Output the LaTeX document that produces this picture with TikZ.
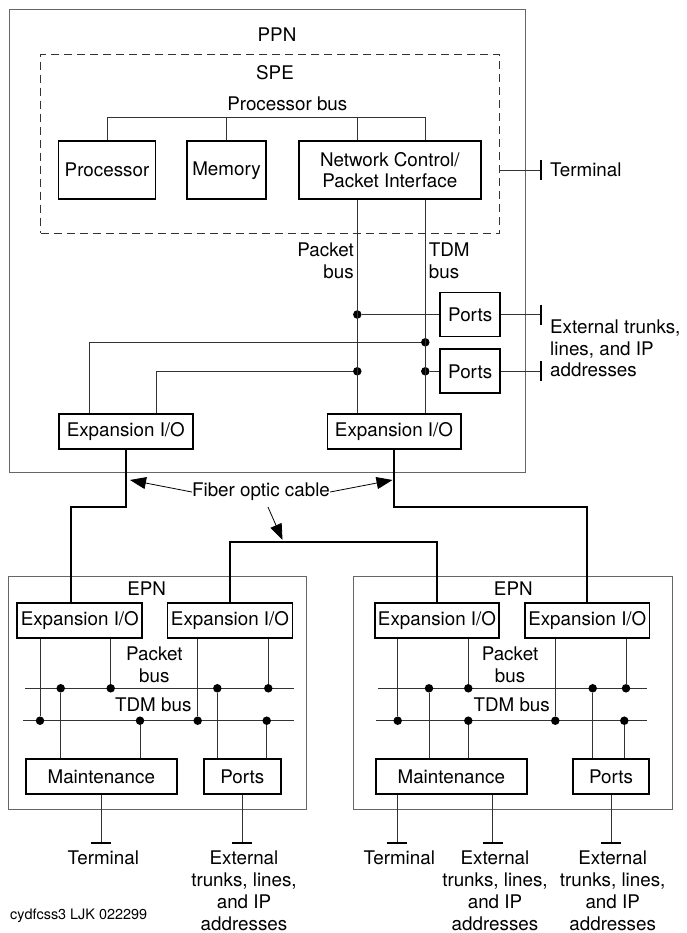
\documentclass[tikz,border=0pt]{standalone}
\usepackage{fontspec}
\setmainfont{TeX Gyre Heros}
\usetikzlibrary{arrows.meta}
\newcommand{\mainsize}{\fontsize{18.8}{21.8}\selectfont}
\newcommand{\tagsize}{\fontsize{14.4}{16}\selectfont}
\tikzstyle{cabinet}=[draw=black!60, line width=1pt, inner sep=0pt]
\tikzstyle{shelf}=[draw=black!80, dash pattern=on 8pt off 5pt, line width=1pt, inner sep=0pt]
\tikzstyle{unit}=[draw, line width=1.8pt, inner sep=0pt, align=center, minimum height=35pt]
\tikzstyle{wire}=[draw=black!80, line width=0.9pt]
\tikzstyle{fiber}=[line width=1.9pt]
\tikzstyle{junction}=[circle, fill, inner sep=0pt, minimum size=8.5pt]
\tikzstyle{endbar}=[line width=1.9pt]
\tikzstyle{caption}=[inner sep=0pt, align=center]
\tikzstyle{pointer}=[line width=0.8pt, -{Triangle[length=16pt,width=12pt]}]

\begin{document}
\begin{tikzpicture}[x=1pt, y=-1pt, font=\mainsize]
\useasboundingbox (0,0) rectangle (687,933);

\node[cabinet, minimum width=516pt, minimum height=463.4pt] (ppn) at (267.3,241) {};
\node[caption] (ppnlabel) at (277,35) {PPN};
\node[shelf, minimum width=459.3pt, minimum height=179pt] (spe) at (270.3,143.8) {};
\node[caption] (spelabel) at (275,72.7) {SPE};
\node[caption] (pbuslabel) at (287.3,104) {Processor bus};

\node[unit, minimum width=97pt, minimum height=57.7pt] (proc) at (107,170.2) {Processor};
\node[unit, minimum width=79pt, minimum height=57.7pt] (mem) at (226.5,170.2) {Memory};
\node[unit, minimum width=181.7pt, minimum height=57.7pt] (ncpi) at (389.8,170.2) {Network Control/\\Packet Interface};
\node[unit, minimum width=59.7pt, minimum height=44pt] (ports1) at (470.2,314.5) {Ports};
\node[unit, minimum width=59.7pt, minimum height=44pt] (ports2) at (470.2,371.3) {Ports};
\node[unit, minimum width=133.6pt] (expA) at (125.8,431.8) {Expansion I/O};
\node[unit, minimum width=133.2pt] (expB) at (394,431.8) {Expansion I/O};

\node[caption, anchor=west] (term) at (550,170) {Terminal};
\node[caption, anchor=west, align=left] (ext) at (550,348.3) {External trunks,\\lines, and IP\\addresses};
\node[caption, anchor=east, align=right] (pktlabel) at (354,261) {Packet\\bus};
\node[caption, anchor=west, align=left] (tdmlabel) at (428.7,261) {TDM\\bus};

\coordinate (pbL) at (107,117.7);
\coordinate (pbR) at (425.3,117.7);
\node[junction] (pA) at (357.3,314.5) {};
\node[junction] (tA) at (425.3,342.3) {};
\node[junction] (pB) at (357.3,371.3) {};
\node[junction] (tB) at (425.3,371.3) {};
\coordinate (termbar) at (541,170);
\coordinate (extbar1) at (541,314.5);
\coordinate (extbar2) at (541,371.3);

\draw[wire] (proc.north) -- (pbL) -- (pbR) -- (ncpi.north -| pbR);
\draw[wire] (mem.north) -- (mem.north |- pbL);
\draw[wire] (ncpi.north -| pA) -- (pA |- pbL);
\draw[wire] (ncpi.south -| pA) -- (expB.north -| pA);
\draw[wire] (ncpi.south -| tA) -- (expB.north -| tA);
\draw[wire] (pA) -- (ports1.west);
\draw[wire] (tB) -- (ports2.west);
\draw[wire] (tA) -| ([xshift=-36.5pt]expA.north);
\draw[wire] (pB) -| ([xshift=31pt]expA.north);
\draw[wire] (spe.east |- termbar) -- (termbar);
\draw[wire] (ports1.east) -- (extbar1);
\draw[wire] (ports2.east) -- (extbar2);
\draw[endbar] ([yshift=10pt]termbar) -- ([yshift=-10pt]termbar);
\draw[endbar] ([yshift=10pt]extbar1) -- ([yshift=-10pt]extbar1);
\draw[endbar] ([yshift=10pt]extbar2) -- ([yshift=-10pt]extbar2);

\node[cabinet, minimum width=298.4pt, minimum height=233.3pt] (epnL) at (157.5,693.3) {};
\node[caption] (epnLlabel) at (146.7,588.3) {EPN};
\node[unit, minimum width=125pt] (eL1) at (79.8,620.8) {Expansion I/O};
\node[unit, minimum width=125pt] (eL2) at (230,620.8) {Expansion I/O};
\node[caption] (pktL) at (154.3,664.5) {Packet\\bus};
\node[caption] (tdmL) at (153.3,704.3) {TDM bus};
\node[unit, minimum width=150.7pt, minimum height=34.7pt] (mL) at (101.3,776.7) {Maintenance};
\node[unit, minimum width=76.7pt, minimum height=34.7pt] (prL) at (242.3,776.7) {Ports};

\coordinate (pkLw) at (25,688.3);
\coordinate (pkLe) at (294.3,688.3);
\coordinate (tdLw) at (23.3,720.7);
\coordinate (tdLe) at (294.3,720.7);
\draw[wire] (pkLw) -- (pkLe);
\draw[wire] (tdLw) -- (tdLe);
\node[junction] (jL1) at (40,720.7) {};
\node[junction] (jL2) at (110.7,688.3) {};
\node[junction] (jL3) at (197.7,720.7) {};
\node[junction] (jL4) at (268.3,688.3) {};
\node[junction] (jL5) at (60.7,688.3) {};
\node[junction] (jL6) at (140,720.7) {};
\node[junction] (jL7) at (217.3,688.3) {};
\node[junction] (jL8) at (266.7,720.7) {};
\draw[wire] (eL1.south -| jL1) -- (jL1);
\draw[wire] (eL1.south -| jL2) -- (jL2);
\draw[wire] (eL2.south -| jL3) -- (jL3);
\draw[wire] (eL2.south -| jL4) -- (jL4);
\draw[wire] (mL.north -| jL5) -- (jL5);
\draw[wire] (mL.north -| jL6) -- (jL6);
\draw[wire] (prL.north -| jL7) -- (jL7);
\draw[wire] (prL.north -| jL8) -- (jL8);
\coordinate (barL1) at (101.3,842.7);
\coordinate (barL2) at (242.3,842.7);
\draw[wire] (mL.south) -- (barL1);
\draw[wire] (prL.south) -- (barL2);
\draw[endbar] ([xshift=-10pt]barL1) -- ([xshift=10pt]barL1);
\draw[endbar] ([xshift=-10pt]barL2) -- ([xshift=10pt]barL2);
\node[caption, anchor=north] (termL) at (103.3,851) {Terminal};
\node[caption, anchor=north] (extL) at (244,851) {External\\trunks, lines,\\and IP\\addresses};

\node[cabinet, minimum width=318.7pt, minimum height=233.3pt] (epnR) at (513.3,693.3) {};
\node[caption] (epnRlabel) at (513.3,588.3) {EPN};
\node[unit, minimum width=124.3pt] (eR1) at (437,620.8) {Expansion I/O};
\node[unit, minimum width=124.3pt] (eR2) at (587.3,620.8) {Expansion I/O};
\node[caption] (pktR) at (510,664.5) {Packet\\bus};
\node[caption] (tdmR) at (511.7,704.3) {TDM bus};
\node[unit, minimum width=150.7pt, minimum height=34.7pt] (mR) at (451.3,776.7) {Maintenance};
\node[unit, minimum width=76.6pt, minimum height=34.7pt] (prR) at (611,776.7) {Ports};

\coordinate (pkRw) at (377.7,688.3);
\coordinate (pkRe) at (647.3,688.3);
\coordinate (tdRw) at (376,720.7);
\coordinate (tdRe) at (647.3,720.7);
\draw[wire] (pkRw) -- (pkRe);
\draw[wire] (tdRw) -- (tdRe);
\node[junction] (jR1) at (397.7,720.7) {};
\node[junction] (jR2) at (468.3,688.3) {};
\node[junction] (jR3) at (555.3,720.7) {};
\node[junction] (jR4) at (626,688.3) {};
\node[junction] (jR5) at (429,688.3) {};
\node[junction] (jR6) at (468.3,720.7) {};
\node[junction] (jR7) at (592.7,688.3) {};
\node[junction] (jR8) at (624.3,720.7) {};
\draw[wire] (eR1.south -| jR1) -- (jR1);
\draw[wire] (eR1.south -| jR2) -- (jR2);
\draw[wire] (eR2.south -| jR3) -- (jR3);
\draw[wire] (eR2.south -| jR4) -- (jR4);
\draw[wire] (mR.north -| jR5) -- (jR5);
\draw[wire] (mR.north -| jR6) -- (jR6);
\draw[wire] (prR.north -| jR7) -- (jR7);
\draw[wire] (prR.north -| jR8) -- (jR8);
\coordinate (barR1) at (397.3,842.7);
\coordinate (barR2) at (492.7,842.7);
\coordinate (barR3) at (611,842.7);
\draw[wire] (mR.south -| barR1) -- (barR1);
\draw[wire] (mR.south -| barR2) -- (barR2);
\draw[wire] (prR.south) -- (barR3);
\draw[endbar] ([xshift=-10pt]barR1) -- ([xshift=10pt]barR1);
\draw[endbar] ([xshift=-10pt]barR2) -- ([xshift=10pt]barR2);
\draw[endbar] ([xshift=-10pt]barR3) -- ([xshift=10pt]barR3);
\node[caption, anchor=north] (termR) at (399.3,851) {Terminal};
\node[caption, anchor=north] (extR1) at (495,851) {External\\trunks, lines,\\and IP\\addresses};
\node[caption, anchor=north] (extR2) at (612.7,851) {External\\trunks, lines,\\and IP\\addresses};

\coordinate (fL) at (71.3,507.3);
\coordinate (fR) at (587.3,507.3);
\coordinate (fM) at (300,542.3);
\draw[fiber] (expA.south) |- (fL) -- (fL |- eL1.north);
\draw[fiber] (expB.south) |- (fR) -- (eR2.north);
\draw[fiber] (eL2.north) |- (fM) -| (eR1.north);

\node[caption] (fibre) at (261,492) {Fiber optic cable};
\coordinate (tipL) at (130,480);
\coordinate (tipR) at (392.5,480);
\coordinate (tipM) at (282.5,540);
\draw[pointer] (fibre.west) -- (tipL);
\draw[pointer] (fibre.east) -- (tipR);
\draw[pointer] ([xshift=7pt,yshift=-6pt]fibre.south) -- (tipM);

\node[caption, anchor=west, font=\tagsize] (tag) at (10,915.7) {cydfcss3 LJK 022299};
\end{tikzpicture}
\end{document}
